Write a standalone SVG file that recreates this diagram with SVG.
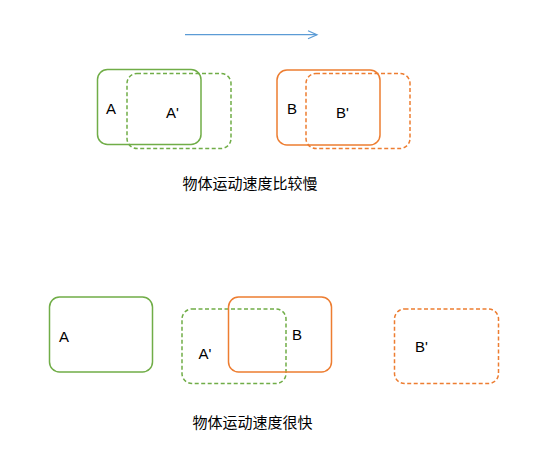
<svg xmlns="http://www.w3.org/2000/svg" width="547" height="474" viewBox="0 0 547 474">
<defs>
<style>
.g{fill:none;stroke:#70AD47;stroke-width:1.5}
.o{fill:none;stroke:#ED7D31;stroke-width:1.5}
.d{stroke-dasharray:4 2.5}
.t{font-family:"Liberation Sans",Arial,sans-serif;font-size:15px;fill:#000}
.c{font-family:"Liberation Sans","Noto Sans CJK SC",sans-serif;font-size:15px;fill:#000}
</style>
<marker id="ah" markerWidth="12" markerHeight="12" refX="10" refY="5" orient="auto" markerUnits="userSpaceOnUse">
<path d="M1,1 L10,5 L1,9" fill="none" stroke="#5B9BD5" stroke-width="1.2"/>
</marker>
</defs>
<rect width="547" height="474" fill="#fff"/>
<g id="connectors">
<line x1="185" y1="34.7" x2="317" y2="34.7" stroke="#5B9BD5" stroke-width="1.2" marker-end="url(#ah)"/>
</g>
<g id="slow-A">
<rect class="g" x="97.5" y="69.5" width="103.5" height="75" rx="10"/>
<text class="t" x="106" y="114">A</text>
</g>
<g id="slow-A2">
<rect class="g d" x="127" y="73.5" width="104" height="75" rx="10"/>
<text class="t" x="166" y="118">A'</text>
</g>
<g id="slow-B">
<rect class="o" x="277" y="70" width="103" height="75" rx="10"/>
<text class="t" x="287" y="114">B</text>
</g>
<g id="slow-B2">
<rect class="o d" x="306" y="73.5" width="104" height="75" rx="10"/>
<text class="t" x="336" y="118">B'</text>
</g>
<g id="title-slow">
<text class="c" x="182.5" y="189">物体运动速度比较慢</text>
</g>
<g id="fast-A">
<rect class="g" x="49.5" y="297" width="103" height="75" rx="10"/>
<text class="t" x="59" y="342">A</text>
</g>
<g id="fast-A2">
<rect class="g d" x="182" y="309" width="104" height="74.5" rx="10"/>
<text class="t" x="198.5" y="359">A'</text>
</g>
<g id="fast-B">
<rect class="o" x="228.5" y="297" width="103" height="75" rx="10"/>
<text class="t" x="292" y="340">B</text>
</g>
<g id="fast-B2">
<rect class="o d" x="394.5" y="309" width="104" height="74.5" rx="10"/>
<text class="t" x="415" y="352">B'</text>
</g>
<g id="title-fast">
<text class="c" x="192.5" y="428">物体运动速度很快</text>
</g>
</svg>
